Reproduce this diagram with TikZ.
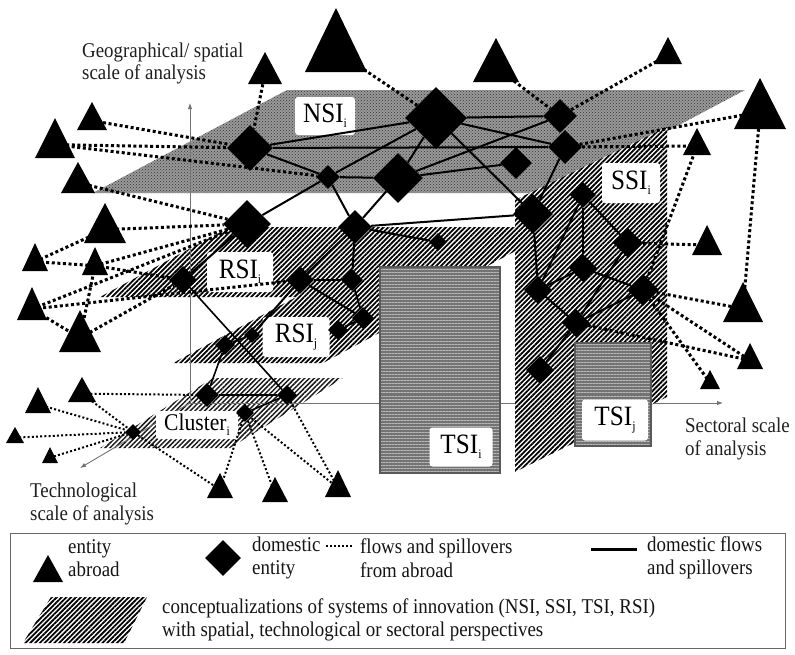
\documentclass[tikz,border=0pt]{standalone}
\usepackage{fontspec}
\setmainfont{Liberation Serif}[FakeStretch=0.9]
\usetikzlibrary{shapes.geometric,patterns,patterns.meta,arrows.meta}

\pgfdeclarelayer{planes}
\pgfdeclarelayer{edges}
\pgfsetlayers{planes,edges,main}

\newcommand\lowsub[1]{\raisebox{-5pt}{\fontsize{13}{13}\selectfont #1}}

\begin{document}
\begin{tikzpicture}[x=1pt,y=-1pt,
  checker/.style={fill=black!40, postaction={pattern=crosshatch dots, pattern color=black!80}},
  hatch/.style={preaction={fill=white}, pattern={Lines[angle=45,distance=3.4pt,line width=1.8pt]}, pattern color=black},
  hatchfine/.style={preaction={fill=white}, pattern={Lines[angle=45,distance=3.4pt,line width=1.5pt]}, pattern color=black!90},
  tsi/.style={preaction={fill=black!55}, pattern={Lines[angle=0,distance=3pt,line width=1pt]}, pattern color=black!28, draw=black!65, line width=2pt},
  tag/.style={fill=white, rounded corners=3pt, inner sep=0pt, font=\fontsize{28}{28}\selectfont},
  axisline/.style={draw=black!55, line width=0.9pt, -{Latex[length=6pt,width=4.5pt]}},
  axistext/.style={font=\fontsize{21}{23}\selectfont, text=black!88, inner sep=0pt},
  legtext/.style={font=\fontsize{21}{23.5}\selectfont, text=black!92, align=left, inner sep=0pt},
  dom/.style={diamond, fill=black, inner sep=0pt, minimum size={2*#1 pt}},
  homeflow/.style={line width=2pt},
  homefine/.style={line width=1.6pt},
  farflow/.style={line width=3pt, dash pattern=on 3pt off 2.6pt},
  farfine/.style={line width=2pt, dash pattern=on 2pt off 2.2pt},
  legdots/.style={line width=2.2pt, dash pattern=on 2pt off 2pt}]

\useasboundingbox (0,0) rectangle (795,654);

% ---------- planes of the systems of innovation ----------
\begin{pgfonlayer}{planes}
  \path[checker] (93,193) -- (287,90) -- (745,90) -- (551,193) -- cycle;      % NSI
  \path[hatch] (100,297) -- (230,227) -- (560,227) -- (430,297) -- cycle;     % RSI i
  \path[hatch] (173,363) -- (300,295) -- (450,295) -- (323,363) -- cycle;     % RSI j
  \path[hatchfine] (100,448) -- (213,378) -- (343,378) -- (230,448) -- cycle; % cluster

  % axes
  \coordinate (origin) at (190,403);
  \coordinate (geo) at (190,103);
  \coordinate (sec) at (723,403);
  \coordinate (tech) at (80,468);
  \draw[axisline] (origin) -- (geo);
  \draw[axisline] (origin) -- (sec);
  \draw[axisline] (origin) -- (tech);

  \path[tsi] (380,267) rectangle (500,473);                                   % TSI i
  \path[hatch] (515,200) -- (667,127) -- (667,397) -- (515,472) -- cycle;     % SSI
  \path[tsi] (575,343) rectangle (651,446);                                   % TSI j

  \node[tag, minimum width=60pt, minimum height=38pt] (nsi) at (325,116) {NSI\lowsub{i}};
  \node[tag, minimum width=58pt, minimum height=40pt] (ssi) at (631,183) {SSI\lowsub{i}};
  \node[tag, minimum width=66pt, minimum height=40pt] (rsii) at (240,272) {RSI\lowsub{i}};
  \node[tag, minimum width=67pt, minimum height=40pt] (rsij) at (296,337) {RSI\lowsub{j}};
  \node[tag, font=\fontsize{24}{24}\selectfont, minimum width=82pt, minimum height=28pt] (clu) at (197,425) {Cluster\lowsub{i}};
  \node[tag, minimum width=63pt, minimum height=39pt] (tsii) at (461,447) {TSI\lowsub{i}};
  \node[tag, minimum width=66pt, minimum height=41pt] (tsij) at (615,420) {TSI\lowsub{j}};
\end{pgfonlayer}

% ---------- axis captions ----------
\node[axistext, anchor=base west] (geo1) at (82,57) {Geographical/ spatial};
\node[axistext, anchor=base west] (geo2) at (82,79) {scale of analysis};
\node[axistext, anchor=base west] (sec1) at (685,432) {Sectoral scale};
\node[axistext, anchor=base west] (sec2) at (685,455) {of analysis};
\node[axistext, anchor=base west] (tec1) at (30,497) {Technological};
\node[axistext, anchor=base west] (tec2) at (30,520) {scale of analysis};

% ---------- domestic entities ----------
\foreach \n/\x/\y/\s in {d1/250/148/23, d2/436/118/31, d3/328/177/12, d4/398/178/25,
    d5/247/224/24, d6/355/227/17, d7/438/242/9, d8/560/116/17, d9/565/147/17,
    d10/516/163/16, d11/533/214/20, d12/583/195/13, d13/628/243/15, d14/583/268/14,
    d15/538/290/14, d16/643/290/16, d17/576/323/14, d18/540/370/14, d19/183/280/14,
    d20/300/280/14, d21/352/280/11, d22/363/318/11, d23/338/330/10, d24/252/335/8,
    d25/225/345/10, d26/207/395/12, d27/287/395/10, d28/245/413/9, d29/133/432/8}
  \node[dom=\s] (\n) at (\x,\y) {};

% ---------- entities abroad: apex x, apex y, base y, half width ----------
\foreach \n/\ax/\ay/\by/\hw in {t1/336/8/72/31, t2/265/52/84/17, t3/92/102/130/15,
    t4/55/118/158/20, t5/78/162/193/17, t6/105/203/243/21, t7/35/243/271/13,
    t8/95/247/275/13, t9/32/287/320/15, t10/80/310/352/21, t11/82/377/402/14,
    t12/38/387/413/13, t13/15/427/443/9, t14/50/447/463/8, t15/220/473/498/13,
    t16/275/477/502/13, t17/338/470/497/13, t18/496/38/82/23, t19/668/37/64/14,
    t20/760/78/129/26, t21/697/128/155/14, t22/707/225/255/15, t23/743/282/322/20,
    t24/750/343/369/13, t25/710/370/389/10}
{
  \coordinate (\n) at (\ax,{(\ay+2*\by)/3});
  \fill (\ax,\ay) -- ({\ax+\hw},\by) -- ({\ax-\hw},\by) -- cycle;
}

% ---------- flows and spillovers ----------
\begin{pgfonlayer}{edges}
  \foreach \a/\b in {d1/d2, d1/d9, d1/d3, d2/d3, d2/d4, d2/d8, d2/d9, d2/d11, d3/d4,
      d3/d5, d3/d6, d4/d6, d4/d8, d4/d10, d6/d11, d6/d7, d9/d11, d5/d19, d6/d20,
      d6/d21, d20/d21, d21/d22, d20/d22, d22/d23, d20/d24, d24/d25, d11/d15,
      d12/d15, d12/d14, d12/d13, d14/d15, d14/d16, d13/d17, d15/d17, d16/d17, d17/d18}
    \draw[homeflow] (\a) -- (\b);
  \foreach \a/\b in {d25/d26, d19/d27, d26/d27, d27/d28}
    \draw[homefine] (\a) -- (\b);
  \foreach \a/\b in {t1/d2, t2/d1, t3/d1, t4/d1, t4/d3, t5/d5, t6/d5, t7/t6, t7/t8,
      t8/d5, t8/d19, t8/t10, t9/d5, t9/d20, t9/t10, t10/d19, t18/d8, d8/t19, d9/t20,
      d9/t21, t21/d16, d13/t22, t20/t23, d16/t23, d16/t24, d16/t25, d17/t24}
    \draw[farflow] (\a) -- (\b);
  \foreach \a/\b in {t11/d26, t11/d29, t12/d29, t13/d29, t14/d29, d29/t15, t15/d28,
      t16/d28, t17/d28, t17/d27}
    \draw[farfine] (\a) -- (\b);
\end{pgfonlayer}

% ---------- legend ----------
\draw[black!60, line width=1pt] (10,533) rectangle (785,648);
\fill (48,555) -- (63,582) -- (33,582) -- cycle;
\node[legtext, anchor=west] (l1) at (68,558) {entity\\abroad};
\node[dom=18] (ld) at (223,558) {};
\node[legtext, anchor=west] (l2) at (252,558) {domestic\\entity};
\coordinate (la) at (326,546);
\coordinate (lb) at (353,546);
\draw[legdots] (la) -- (lb);
\node[legtext, anchor=west] (l3) at (360,558) {flows and spillovers\\from abroad};
\coordinate (lc) at (591,549);
\coordinate (le) at (637,549);
\draw[line width=3pt] (lc) -- (le);
\node[legtext, anchor=west] (l4) at (647,558) {domestic flows\\and spillovers};
\path[hatch] (23,643) -- (124,643) -- (147,597) -- (51,597) -- cycle;
\node[legtext, anchor=west] (l5) at (162,620) {conceptualizations of systems of innovation (NSI, SSI, TSI, RSI)\\with spatial, technological or sectoral perspectives};

\end{tikzpicture}
\end{document}
